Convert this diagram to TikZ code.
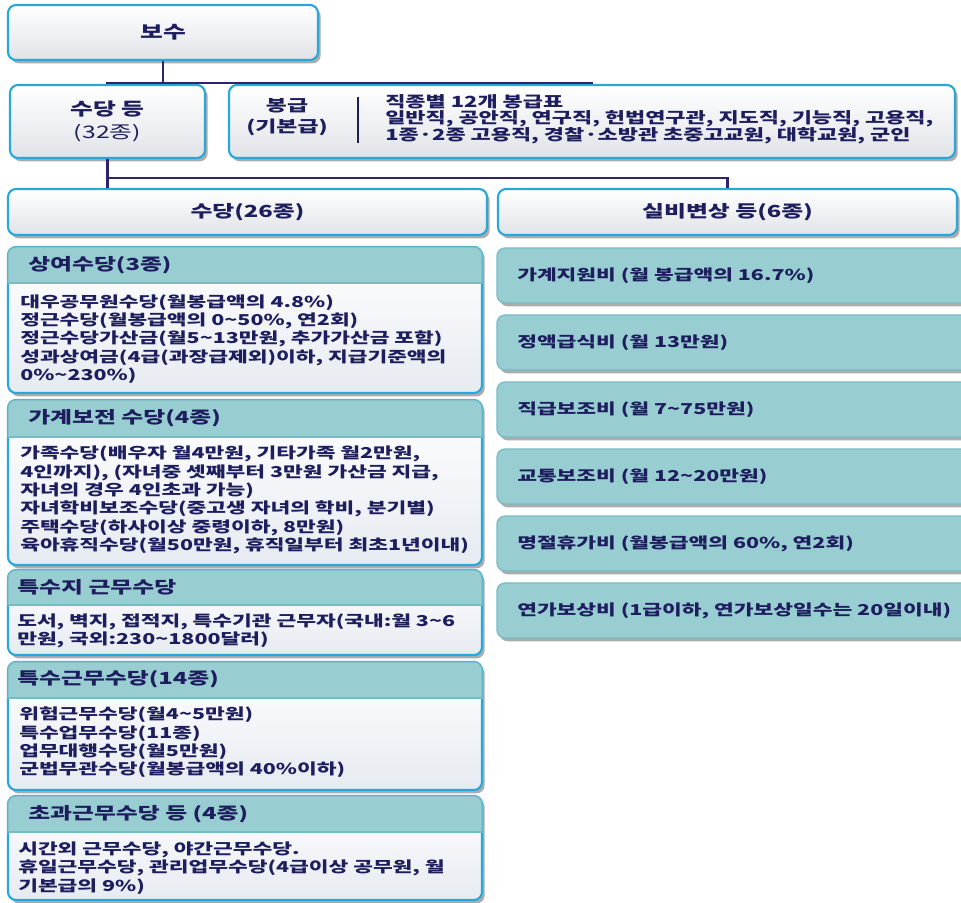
\documentclass[tikz,border=0pt]{standalone}
\usepackage{fontspec}
\setmainfont{Noto Sans CJK KR}[FakeStretch=1.43]
\usetikzlibrary{shadows,calc}
\definecolor{cyanb}{RGB}{38,168,219}
\definecolor{tealf}{RGB}{152,206,210}
\definecolor{tealb}{RGB}{118,188,195}
\definecolor{navy}{RGB}{30,30,95}
\definecolor{conn}{RGB}{45,35,110}
\definecolor{gbot}{RGB}{224,227,231}
\definecolor{bbot}{RGB}{230,235,241}
\definecolor{shad}{RGB}{172,172,172}
\newcommand\tld{\textasciitilde}
\tikzset{
  shd/.style={drop shadow={shadow xshift=2pt,shadow yshift=-2.5pt,fill=shad,opacity=1}},
  gbox/.style={shd,draw=cyanb,line width=1.6pt,rounded corners=6pt,top color=white,bottom color=gbot,inner sep=0pt,text=navy,align=center},
  bodybox/.style={shd,draw=cyanb,line width=1.6pt,rounded corners=6pt,top color=white,bottom color=bbot,inner sep=0pt},
  hdrs/.style={fill=tealf,draw=tealb,line width=1pt,rounded corners=6pt},
  tbox/.style={shd,fill=tealf,draw=tealb,line width=1pt,rounded corners=6pt,inner sep=0pt},
  topfont/.style={font=\fontsize{13}{16}\selectfont\bfseries},
  hdrtxt/.style={anchor=west,inner sep=0pt,text=navy,font=\fontsize{12.5}{15}\selectfont\bfseries},
  bodytxt/.style={anchor=west,inner sep=0pt,text=navy,align=left,font=\fontsize{11.25}{13.8}\selectfont\bfseries},
  rtxt/.style={anchor=west,inner sep=0pt,text=navy,font=\fontsize{11.25}{13.8}\selectfont\bfseries},
  link/.style={draw=conn,line width=1.7pt},
}
\begin{document}
\begin{tikzpicture}[x=0.75pt,y=0.75pt]
\useasboundingbox[fill=white] (0,0) rectangle (961,-903);

% top level
\node[gbox,topfont,minimum width=232.5pt,minimum height=41.25pt] (bosu) at (163,-32.5) {보수};
\node[gbox,topfont,minimum width=146.25pt,minimum height=54.75pt] (sudang) at (107.5,-121.5) {수당 등\\[1pt]{\mdseries(32종)}};
\node[gbox,minimum width=544.5pt,minimum height=54.75pt] (bongup) at (592,-121.5) {};
\node[inner sep=0pt,text=navy,align=center,font=\fontsize{12}{16}\selectfont\bfseries] (bgtitle) at (287,-117) {봉급\\(기본급)};
\draw[draw=navy,line width=1.2pt] (358,-97) -- (358,-143);
\node[anchor=west,inner sep=0pt,text=navy,align=left,font=\fontsize{11.5}{12.4}\selectfont\bfseries] (bglist) at (385,-119) {직종별 12개 봉급표\\일반직, 공안직, 연구직, 헌법연구관, 지도직, 기능직, 고용직,\\1종·2종 고용직, 경찰·소방관 초중고교원, 대학교원, 군인};

\node[gbox,font=\fontsize{12.5}{15}\selectfont\bfseries,minimum width=359.25pt,minimum height=34.5pt] (sd26) at (247.5,-212) {수당(26종)};
\node[gbox,font=\fontsize{12.5}{15}\selectfont\bfseries,minimum width=344.25pt,minimum height=34.5pt] (silbi) at (727.5,-212) {실비변상 등(6종)};

% connectors
\draw[link] (bosu.south) -- ++(0,-22) -| (sudang.north);
\draw[link] (bosu.south) -- ++(0,-22) -| (bongup.north);
\draw[link] (sudang.south) -- (sudang.south |- sd26.north);
\draw[link] (sudang.south) -- ++(0,-19) -| (silbi.north);

% category 1
\node[bodybox,minimum width=355.5pt,minimum height=109.5pt] (c1) at (245,-320) {};
\begin{scope}\clip (3,-242) rectangle (487,-283);\draw[hdrs] (8,-247) rectangle (482,-300);\end{scope}
\draw[tealb,line width=1pt] (8,-283) -- (482,-283);
\node[hdrtxt] (h1) at (28,-265) {상여수당(3종)};
\node[bodytxt] (b1) at (20,-339) {대우공무원수당(월봉급액의 4.8\%)\\정근수당(월봉급액의 0\tld50\%, 연2회)\\정근수당가산금(월5\tld13만원, 추가가산금 포함)\\성과상여금(4급(과장급제외)이하, 지급기준액의\\0\%\tld230\%)};

% category 2
\node[bodybox,minimum width=355.5pt,minimum height=123.75pt] (c2) at (245,-482.5) {};
\begin{scope}\clip (3,-395) rectangle (487,-437);\draw[hdrs] (8,-400) rectangle (482,-455);\end{scope}
\draw[tealb,line width=1pt] (8,-437) -- (482,-437);
\node[hdrtxt] (h2) at (28,-418) {가계보전 수당(4종)};
\node[bodytxt] (b2) at (20,-500) {가족수당(배우자 월4만원, 기타가족 월2만원,\\4인까지), (자녀중 셋째부터 3만원 가산금 지급,\\자녀의 경우 4인초과 가능)\\자녀학비보조수당(중고생 자녀의 학비, 분기별)\\주택수당(하사이상 중령이하, 8만원)\\육아휴직수당(월50만원, 휴직일부터 최초1년이내)};

% category 3
\node[bodybox,minimum width=355.5pt,minimum height=63.75pt] (c3) at (245,-612.5) {};
\begin{scope}\clip (3,-565) rectangle (487,-605);\draw[hdrs] (8,-570) rectangle (482,-625);\end{scope}
\draw[tealb,line width=1pt] (8,-605) -- (482,-605);
\node[hdrtxt] (h3) at (17,-587) {특수지 근무수당};
\node[bodytxt] (b3) at (17,-631) {도서, 벽지, 접적지, 특수기관 근무자(국내:월 3\tld6\\만원, 국외:230\tld1800달러)};

% category 4
\node[bodybox,minimum width=355.5pt,minimum height=96pt] (c4) at (245,-726) {};
\begin{scope}\clip (3,-657) rectangle (487,-698);\draw[hdrs] (8,-662) rectangle (482,-715);\end{scope}
\draw[tealb,line width=1pt] (8,-698) -- (482,-698);
\node[hdrtxt] (h4) at (17,-679) {특수근무수당(14종)};
\node[bodytxt] (b4) at (19,-742.5) {위험근무수당(월4\tld5만원)\\특수업무수당(11종)\\업무대행수당(월5만원)\\군법무관수당(월봉급액의 40\%이하)};

% category 5
\node[bodybox,minimum width=355.5pt,minimum height=78pt] (c5) at (245,-848) {};
\begin{scope}\clip (3,-791) rectangle (487,-832);\draw[hdrs] (8,-796) rectangle (482,-850);\end{scope}
\draw[tealb,line width=1pt] (8,-832) -- (482,-832);
\node[hdrtxt] (h5) at (28,-814) {초과근무수당 등 (4종)};
\node[bodytxt] (b5) at (18,-868) {시간외 근무수당, 야간근무수당.\\휴일근무수당, 관리업무수당(4급이상 공무원, 월\\기본급의 9\%)};

% right column
\node[tbox,minimum width=358.5pt,minimum height=41.25pt] (r1) at (736,-275.5) {};
\node[rtxt] (t1) at (517,-275.5) {가계지원비 (월 봉급액의 16.7\%)};
\node[tbox,minimum width=358.5pt,minimum height=41.25pt] (r2) at (736,-342.5) {};
\node[rtxt] (t2) at (517,-342.5) {정액급식비 (월 13만원)};
\node[tbox,minimum width=358.5pt,minimum height=41.25pt] (r3) at (736,-409.5) {};
\node[rtxt] (t3) at (517,-409.5) {직급보조비 (월 7\tld75만원)};
\node[tbox,minimum width=358.5pt,minimum height=41.25pt] (r4) at (736,-476.5) {};
\node[rtxt] (t4) at (517,-476.5) {교통보조비 (월 12\tld20만원)};
\node[tbox,minimum width=358.5pt,minimum height=41.25pt] (r5) at (736,-543.5) {};
\node[rtxt] (t5) at (517,-543.5) {명절휴가비 (월봉급액의 60\%, 연2회)};
\node[tbox,minimum width=358.5pt,minimum height=41.25pt] (r6) at (736,-610.5) {};
\node[rtxt] (t6) at (517,-610.5) {연가보상비 (1급이하, 연가보상일수는 20일이내)};
\end{tikzpicture}
\end{document}
